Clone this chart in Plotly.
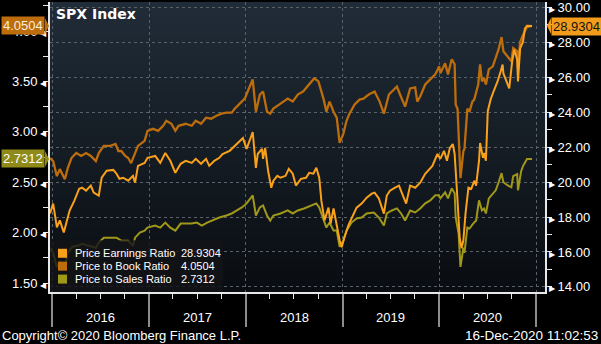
import plotly.graph_objects as go

# ---------------- data ----------------
series_names = ["Price Earnings Ratio", "Price to Book Ratio", "Price to Sales Ratio"]
last_values = [28.9304, 4.0504, 2.7312]

pe_dates = [
    "2015-12-24", "2016-01-05", "2016-01-19", "2016-01-30", "2016-02-14", "2016-02-25", "2016-03-07",
    "2016-03-25", "2016-04-12", "2016-04-23", "2016-05-08", "2016-05-26", "2016-06-06", "2016-06-25",
    "2016-07-06", "2016-07-25", "2016-08-19", "2016-08-31", "2016-09-11", "2016-09-25", "2016-10-14",
    "2016-11-01", "2016-11-09", "2016-11-20", "2016-12-15", "2016-12-26",
    "2017-01-24", "2017-02-12", "2017-03-03", "2017-03-22", "2017-04-10", "2017-04-30", "2017-05-19",
    "2017-06-11", "2017-06-26", "2017-07-16", "2017-08-04", "2017-08-16", "2017-09-04", "2017-09-23",
    "2017-10-05", "2017-11-01", "2017-11-28", "2017-12-21",
    "2018-01-04", "2018-01-27", "2018-02-08", "2018-02-15", "2018-03-03", "2018-03-07", "2018-03-15",
    "2018-03-26", "2018-04-07", "2018-04-15", "2018-04-30", "2018-05-12", "2018-05-31", "2018-06-12",
    "2018-06-27", "2018-07-09", "2018-07-28", "2018-08-16", "2018-08-28", "2018-09-13", "2018-09-24",
    "2018-10-05", "2018-10-13", "2018-10-25", "2018-11-09", "2018-11-17", "2018-11-28", "2018-12-10",
    "2018-12-21", "2018-12-29",
    "2019-01-08", "2019-01-23", "2019-02-11", "2019-02-23", "2019-03-14", "2019-04-02", "2019-04-21",
    "2019-05-02", "2019-05-18", "2019-06-06", "2019-06-17", "2019-06-29", "2019-07-18", "2019-08-02",
    "2019-08-14", "2019-08-29", "2019-09-13", "2019-10-02", "2019-10-21", "2019-11-09", "2019-12-06",
    "2019-12-25",
    "2020-01-05", "2020-01-19", "2020-01-30", "2020-02-10", "2020-02-21", "2020-02-28", "2020-03-07",
    "2020-03-14", "2020-03-18", "2020-03-25", "2020-04-01", "2020-04-09", "2020-04-20", "2020-05-01",
    "2020-05-12", "2020-05-19", "2020-05-30", "2020-06-03", "2020-06-14", "2020-06-18", "2020-06-25",
    "2020-07-02", "2020-07-13", "2020-07-24", "2020-08-08", "2020-08-19", "2020-08-27", "2020-08-30",
    "2020-09-14", "2020-09-21", "2020-10-02", "2020-10-10", "2020-10-21", "2020-10-24", "2020-11-01",
    "2020-11-12", "2020-11-19", "2020-11-27", "2020-12-16",
]
pe_values = [
    18.20, 18.77, 17.41, 17.81, 17.12, 17.81, 18.37, 18.94, 19.62, 19.68, 19.51, 19.80, 19.40, 19.23,
    20.25, 20.65, 20.70, 20.48, 20.19, 20.25, 20.08, 20.36, 19.97, 20.93, 21.10, 21.39,
    21.50, 21.10, 21.67, 21.22, 20.53, 21.05, 21.22, 21.10, 21.33, 21.05, 21.33, 20.93, 21.22, 21.39,
    21.61, 21.79, 22.18, 22.52,
    21.90, 22.87, 20.82, 21.61, 21.90, 21.33, 21.96, 20.65, 19.68, 20.08, 20.36, 20.25, 20.36, 20.76,
    20.48, 19.80, 20.19, 20.25, 20.53, 20.48, 20.82, 20.25, 18.94, 17.81, 18.54, 17.63, 18.49, 17.41,
    16.67, 16.27,
    16.84, 17.52, 18.20, 18.54, 18.77, 19.11, 19.34, 19.40, 19.06, 18.20, 19.23, 19.51, 19.68, 19.80,
    19.34, 18.77, 19.80, 19.68, 19.97, 20.48, 20.93, 21.61,
    21.33, 21.79, 21.22, 21.96, 22.18, 21.61, 19.68, 17.98, 16.84, 16.21, 16.67, 18.20, 19.68, 19.62,
    20.08, 19.80, 21.22, 22.24, 21.39, 21.67, 21.22, 24.06, 24.74, 25.20, 25.76, 26.30, 26.73, 26.22,
    25.59, 25.37, 26.90, 27.58, 27.02, 25.76, 27.64, 28.04, 28.78, 28.95, 28.9304,
]

pb_dates = [
    "2015-12-24", "2016-01-05", "2016-01-19", "2016-01-30", "2016-02-18", "2016-02-29", "2016-03-14",
    "2016-04-01", "2016-04-20", "2016-05-08", "2016-05-26", "2016-06-14", "2016-06-25", "2016-07-14",
    "2016-08-08", "2016-08-27", "2016-09-07", "2016-09-18", "2016-10-03", "2016-10-14", "2016-10-25",
    "2016-11-09", "2016-11-20", "2016-12-15", "2016-12-26",
    "2017-01-16", "2017-02-04", "2017-02-23", "2017-03-07", "2017-03-26", "2017-04-10", "2017-04-22",
    "2017-05-19", "2017-06-11", "2017-06-26", "2017-07-16", "2017-08-04", "2017-08-23", "2017-09-12",
    "2017-10-01", "2017-10-20", "2017-11-09", "2017-11-20", "2017-12-09", "2017-12-28",
    "2018-01-08", "2018-01-27", "2018-02-08", "2018-02-23", "2018-03-07", "2018-03-22", "2018-04-03",
    "2018-04-15", "2018-05-12", "2018-06-08", "2018-06-27", "2018-07-16", "2018-08-05", "2018-08-28",
    "2018-09-16", "2018-10-02", "2018-10-21", "2018-11-01", "2018-11-13", "2018-11-28", "2018-12-10",
    "2018-12-21",
    "2019-01-04", "2019-01-16", "2019-01-27", "2019-02-15", "2019-03-06", "2019-03-21", "2019-04-10",
    "2019-05-02", "2019-05-21", "2019-06-06", "2019-06-25", "2019-07-14", "2019-07-25", "2019-08-06",
    "2019-08-25", "2019-09-13", "2019-10-02", "2019-10-10", "2019-10-21", "2019-11-09", "2019-11-28",
    "2019-12-17",
    "2020-01-01", "2020-01-05", "2020-01-23", "2020-02-03", "2020-02-17", "2020-02-28", "2020-03-03",
    "2020-03-10", "2020-03-14", "2020-03-21", "2020-04-01", "2020-04-05", "2020-04-16", "2020-04-24",
    "2020-05-05", "2020-05-12", "2020-05-27", "2020-06-03", "2020-06-10", "2020-06-18", "2020-06-25",
    "2020-07-06", "2020-07-21", "2020-08-01", "2020-08-12", "2020-08-23", "2020-08-30", "2020-09-14",
    "2020-09-29", "2020-10-06", "2020-10-21", "2020-10-24", "2020-11-01", "2020-11-12", "2020-11-27",
    "2020-12-16",
]
pb_values = [
    2.74, 2.71, 2.56, 2.63, 2.53, 2.64, 2.74, 2.79, 2.76, 2.79, 2.76, 2.71, 2.79, 2.86, 2.86, 2.88,
    2.81, 2.81, 2.76, 2.74, 2.69, 2.79, 2.86, 2.91, 3.01,
    3.03, 3.01, 3.06, 3.11, 3.08, 3.01, 3.06, 3.08, 3.06, 3.11, 3.08, 3.14, 3.13, 3.16, 3.18, 3.19,
    3.19, 3.23, 3.28, 3.33,
    3.40, 3.52, 3.20, 3.37, 3.40, 3.20, 3.18, 3.23, 3.28, 3.33, 3.30, 3.37, 3.40, 3.47, 3.53, 3.50,
    3.33, 3.20, 3.30, 3.20, 3.14, 2.89,
    2.98, 3.11, 3.18, 3.27, 3.32, 3.33, 3.37, 3.40, 3.30, 3.18, 3.37, 3.42, 3.45, 3.37, 3.25, 3.43,
    3.44, 3.30, 3.35, 3.47, 3.52, 3.57,
    3.65, 3.58, 3.68, 3.57, 3.72, 3.67, 3.27, 3.23, 2.98, 2.54, 2.81, 2.83, 3.23, 3.20, 3.30, 3.32,
    3.47, 3.67, 3.50, 3.53, 3.47, 3.62, 3.65, 3.73, 3.82, 3.94, 3.80, 3.75, 3.70, 3.83, 3.80, 3.63,
    3.89, 3.96, 4.04, 4.0504,
]

ps_dates = [
    "2015-12-24", "2016-01-05", "2016-01-19", "2016-01-30", "2016-02-18", "2016-02-29", "2016-03-18",
    "2016-04-05", "2016-04-23", "2016-05-19", "2016-06-14", "2016-06-25", "2016-07-14", "2016-08-08",
    "2016-08-31", "2016-09-18", "2016-10-14", "2016-11-01", "2016-11-09", "2016-11-27", "2016-12-15",
    "2016-12-26",
    "2017-01-24", "2017-02-12", "2017-03-03", "2017-03-22", "2017-04-10", "2017-04-30", "2017-05-19",
    "2017-06-11", "2017-06-30", "2017-07-19", "2017-08-08", "2017-08-27", "2017-09-23", "2017-10-20",
    "2017-11-09", "2017-11-28", "2017-12-17",
    "2018-01-04", "2018-01-27", "2018-02-08", "2018-02-23", "2018-03-07", "2018-03-22", "2018-04-03",
    "2018-04-15", "2018-05-12", "2018-06-08", "2018-06-27", "2018-07-16", "2018-08-09", "2018-09-05",
    "2018-09-24", "2018-10-05", "2018-10-21", "2018-11-01", "2018-11-13", "2018-11-28", "2018-12-10",
    "2018-12-21",
    "2019-01-04", "2019-01-16", "2019-02-04", "2019-02-23", "2019-03-14", "2019-04-02", "2019-04-29",
    "2019-05-18", "2019-06-06", "2019-06-17", "2019-07-06", "2019-07-25", "2019-08-10", "2019-08-25",
    "2019-09-13", "2019-10-02", "2019-10-21", "2019-11-09", "2019-11-28", "2019-12-17", "2019-12-29",
    "2020-01-05", "2020-01-23", "2020-02-03", "2020-02-17", "2020-02-28", "2020-03-03", "2020-03-14",
    "2020-03-18", "2020-03-21", "2020-04-01", "2020-04-05", "2020-04-16", "2020-04-24", "2020-05-08",
    "2020-05-19", "2020-05-30", "2020-06-10", "2020-06-18", "2020-06-25", "2020-07-06", "2020-07-21",
    "2020-08-01", "2020-08-12", "2020-08-23", "2020-08-30", "2020-09-14", "2020-09-29", "2020-10-06",
    "2020-10-21", "2020-10-24", "2020-11-05", "2020-11-12", "2020-11-27", "2020-12-16",
]
ps_values = [
    1.85, 1.80, 1.66, 1.71, 1.65, 1.80, 1.86, 1.87, 1.89, 1.87, 1.85, 1.90, 1.95, 1.95, 1.95, 1.92,
    1.92, 1.87, 1.95, 2.00, 2.02, 2.05,
    2.07, 2.05, 2.10, 2.05, 2.02, 2.09, 2.09, 2.09, 2.10, 2.07, 2.10, 2.12, 2.15, 2.17, 2.19, 2.22,
    2.25,
    2.29, 2.37, 2.17, 2.25, 2.27, 2.17, 2.12, 2.17, 2.19, 2.22, 2.19, 2.22, 2.24, 2.27, 2.29, 2.25,
    2.12, 2.05, 2.10, 2.02, 2.02, 1.86,
    1.92, 2.02, 2.10, 2.14, 2.15, 2.19, 2.20, 2.15, 2.07, 2.19, 2.22, 2.24, 2.19, 2.12, 2.22, 2.20,
    2.24, 2.29, 2.32, 2.37, 2.37,
    2.34, 2.40, 2.34, 2.44, 2.39, 2.15, 1.99, 1.80, 1.66, 1.85, 1.80, 2.05, 2.04, 2.09, 2.12, 2.32,
    2.22, 2.24, 2.19, 2.34, 2.39, 2.42, 2.50, 2.59, 2.50, 2.47, 2.45, 2.56, 2.58, 2.42, 2.61, 2.66,
    2.73, 2.7312,
]

left_ticks = [1.5, 2.0, 2.5, 3.0, 3.5, 4.0]
right_ticks = [14, 16, 18, 20, 22, 24, 26, 28, 30]
years = [2016, 2017, 2018, 2019, 2020]
title_text = "SPX Index"
copyright_text = "Copyright\u00a9 2020 Bloomberg Finance L.P."
stamp_text = "16-Dec-2020 11:02:53"

# ---------------- styling ----------------
FONT = "Liberation Sans, Arial, sans-serif"
PE_C = "#f9a11b"
PB_C = "#bd6d0c"
PS_C = "#a09819"
colors = [PE_C, PB_C, PS_C]
AXIS_C = "#e8e8e8"
GRID_C = "#5b6168"

fig = go.Figure()

fig.add_trace(go.Scatter(x=pb_dates, y=pb_values, mode="lines", yaxis="y",
                         line=dict(color=PB_C, width=2.3), hoverinfo="skip", name=series_names[1]))
fig.add_trace(go.Scatter(x=ps_dates, y=ps_values, mode="lines", yaxis="y",
                         line=dict(color=PS_C, width=2.0), hoverinfo="skip", name=series_names[2]))
fig.add_trace(go.Scatter(x=pe_dates, y=pe_values, mode="lines", yaxis="y2",
                         line=dict(color=PE_C, width=2.0), hoverinfo="skip", name=series_names[0]))

shapes = []
# vertical gradient background of the plot area
top_rgb, bot_rgb = (32, 44, 56), (10, 13, 17)
N = 60
for i in range(N):
    t = i / (N - 1)
    c = tuple(round(top_rgb[k] + (bot_rgb[k] - top_rgb[k]) * t) for k in range(3))
    shapes.append(dict(type="rect", xref="paper", yref="paper", x0=0, x1=1,
                       y0=max(0, 1 - (i + 1) / N - 0.003), y1=1 - i / N,
                       fillcolor="rgb(%d,%d,%d)" % c, line=dict(width=0), layer="below"))

annotations = []

# legend box (manual)
shapes.append(dict(type="rect", xref="paper", yref="paper", x0=0, x1=173 / 495, y0=0, y1=52 / 292,
                   fillcolor="rgba(18,20,23,0.82)", line=dict(width=0), layer="above"))
row_px = [253, 266, 279]
for name, val, col, ry in zip(series_names, last_values, colors, row_px):
    yp = (292 - ry) / 292
    shapes.append(dict(type="rect", xref="paper", yref="paper", xsizemode="pixel", ysizemode="pixel",
                       xanchor=0, yanchor=yp, x0=8, x1=17, y0=-4.5, y1=4.5,
                       fillcolor=col, line=dict(width=0), layer="above"))
    annotations.append(dict(xref="paper", yref="paper", x=23 / 495, y=yp, xanchor="left", yanchor="middle",
                            text=name, showarrow=False, font=dict(family=FONT, size=11, color="white")))
    annotations.append(dict(xref="paper", yref="paper", x=129 / 495, y=yp, xanchor="left", yanchor="middle",
                            text="%.4f" % val, showarrow=False, font=dict(family=FONT, size=11, color="white")))

# last-value tags
tag_specs = [
    (last_values[1], "y", 0, "right", -5, PB_C, "#f6ecdc"),
    (last_values[2], "y", 0, "right", -5, "#8f8a1a", "#ffffff"),
    (last_values[0], "y2", 1, "left", 6, "#f39c1c", "#141414"),
]
for val, yref, xp, xa, xs, bg, fg in tag_specs:
    annotations.append(dict(xref="paper", yref=yref, x=xp, y=val, xanchor=xa, yanchor="middle", xshift=xs,
                            text="%.4f" % val, showarrow=False, bgcolor=bg, borderpad=1,
                            font=dict(family=FONT, size=13, color=fg)))
    if xa == "right":
        path = "M -5,8 L -1,0 L -5,-8 Z"
    else:
        path = "M 6,8 L 2,0 L 6,-8 Z"
    shapes.append(dict(type="path", xref="paper", yref=yref, xsizemode="pixel", ysizemode="pixel",
                       xanchor=xp, yanchor=val, path=path, fillcolor=bg, line=dict(width=0), layer="above"))

# title
annotations.append(dict(xref="paper", yref="paper", x=4 / 495, y=1, xanchor="left", yanchor="top", yshift=-2,
                        text="<b>%s</b>" % title_text, showarrow=False,
                        font=dict(family="DejaVu Sans", size=14, color="white")))
# year labels centred in each year
for yr in years:
    annotations.append(dict(xref="x", yref="paper", x="%d-07-02" % yr, y=-26 / 292, xanchor="center",
                            yanchor="middle", text=str(yr), showarrow=False,
                            font=dict(family=FONT, size=13, color="white")))
# footer
annotations.append(dict(xref="paper", yref="paper", x=-50 / 495, y=-44 / 292, xanchor="left", yanchor="middle",
                        xshift=0, text=copyright_text, showarrow=False,
                        font=dict(family=FONT, size=13, color="white")))
annotations.append(dict(xref="paper", yref="paper", x=550 / 495, y=-44 / 292, xanchor="right", yanchor="middle",
                        text=stamp_text, showarrow=False, font=dict(family=FONT, size=13.5, color="white")))

left_text = ["%.2f<span style='font-size:8px'> \u25c0</span>" % v for v in left_ticks]
right_text = ["<span style='font-size:8px'>\u25b6 </span>%.2f" % v for v in right_ticks]

fig.update_layout(
    width=601, height=344,
    margin=dict(l=50, r=56, t=0, b=52, pad=0),
    paper_bgcolor="black", plot_bgcolor="black",
    showlegend=False,
    font=dict(family=FONT, color="white", size=13),
    shapes=shapes, annotations=annotations,
    xaxis=dict(type="date", range=["2015-12-24", "2021-02-03"],
               tickmode="array", tickvals=["%d-01-01" % y for y in years + [years[-1] + 1]],
               showticklabels=False, ticks="outside", ticklen=33, tickwidth=1.5, tickcolor="#8c8c8c",
               showgrid=True, gridcolor=GRID_C, griddash="3px,3px", gridwidth=1,
               showline=True, linecolor=AXIS_C, linewidth=1.5, zeroline=False,
               minor=dict(tickmode="linear", tick0="2016-01-01", dtick="M3", ticks="outside",
                          ticklen=5, tickwidth=1, tickcolor=AXIS_C, showgrid=False)),
    yaxis=dict(range=[1.411, 4.288], tickmode="array", tickvals=left_ticks, ticktext=left_text,
               ticks="", showgrid=False, zeroline=False, ticklabeloverflow="allow",
               showline=True, linecolor=AXIS_C, linewidth=1.5,
               tickfont=dict(family=FONT, size=13, color="white"),
               minor=dict(tickmode="linear", tick0=1.25, dtick=0.25, ticks="outside",
                          ticklen=5, tickwidth=1, tickcolor=AXIS_C, showgrid=False)),
    yaxis2=dict(overlaying="y", side="right", range=[13.71, 30.31], tickmode="array",
                tickvals=right_ticks, ticktext=right_text, ticks="", ticklabeloverflow="allow",
                showgrid=True, gridcolor=GRID_C, griddash="3px,3px", gridwidth=1, zeroline=False,
                showline=True, linecolor=AXIS_C, linewidth=1.5,
                tickfont=dict(family=FONT, size=13, color="white"),
                minor=dict(tickmode="linear", tick0=13, dtick=1, ticks="outside",
                           ticklen=5, tickwidth=1, tickcolor=AXIS_C, showgrid=False)),
)

fig.write_html("out.html", config={"displayModeBar": False})
